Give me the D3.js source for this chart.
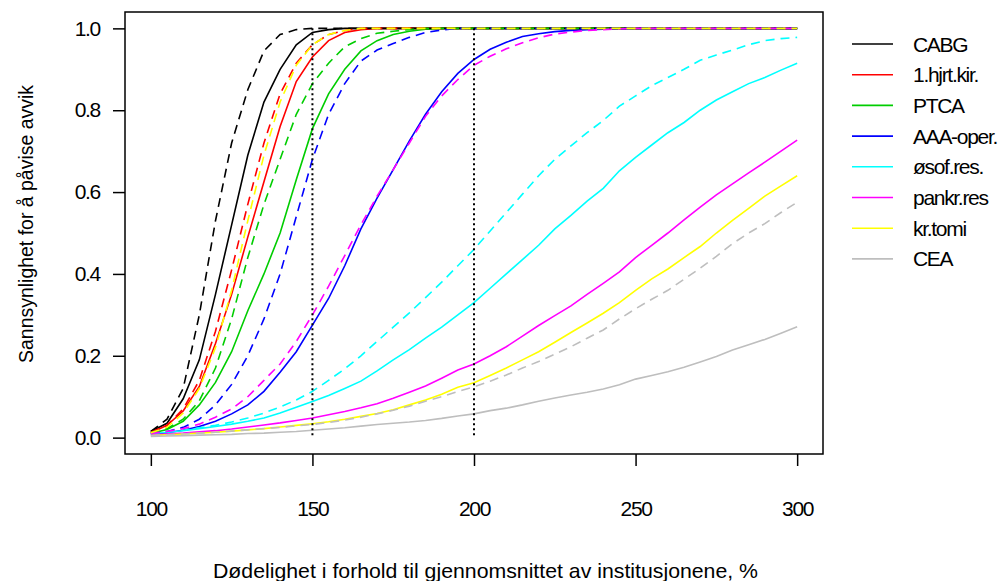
<!DOCTYPE html>
<html>
<head>
<meta charset="utf-8">
<script src="https://cdn.jsdelivr.net/npm/d3@7"></script>
<style>
  body { margin: 0; background: #fff; }
  text { font-family: "Liberation Sans", Arial, sans-serif; }
</style>
</head>
<body>
<div class="chart"></div>
<script>
// x values (% of average mortality)
var xs = [100,105,110,115,120,125,130,135,140,145,150,155,160,165,170,175,180,185,190,195,
          200,205,210,215,220,225,230,235,240,245,250,255,260,265,270,275,280,285,290,295,300];

var categories = ["CABG", "1.hjrt.kir.", "PTCA", "AAA-oper.", "øsof.res.", "pankr.res", "kr.tomi", "CEA"];
var colors = ["#000000", "#ff0000", "#00cd00", "#0000ff", "#00ffff", "#ff00ff", "#ffff00", "#bebebe"];

var xTicks = [100, 150, 200, 250, 300];
var yTicks = [0, 0.2, 0.4, 0.6, 0.8, 1.0];
var refLines = [150, 200];

// solid lines
var cabgSolid = [0.015,0.035,0.095,0.19,0.35,0.52,0.69,0.82,0.90,0.96,0.99,0.997,1,1,1,1,1,1,1,1,1,1,1,1,1,1,1,1,1,1,1,1,1,1,1,1,1,1,1,1,1];
var hjrtSolid = [0.012,0.03,0.065,0.125,0.23,0.35,0.49,0.625,0.76,0.87,0.93,0.97,0.99,0.997,1,1,1,1,1,1,1,1,1,1,1,1,1,1,1,1,1,1,1,1,1,1,1,1,1,1,1];
var ptcaSolid = [0.01,0.02,0.04,0.08,0.135,0.21,0.31,0.40,0.50,0.63,0.755,0.84,0.90,0.945,0.97,0.985,0.993,0.998,1,1,1,1,1,1,1,1,1,1,1,1,1,1,1,1,1,1,1,1,1,1,1];
var aaaSolid = [0.008,0.012,0.018,0.027,0.04,0.058,0.08,0.113,0.16,0.21,0.275,0.34,0.42,0.51,0.585,0.655,0.725,0.79,0.845,0.89,0.924,0.949,0.966,0.98,0.987,0.992,0.995,0.997,0.998,0.999,1,1,1,1,1,1,1,1,1,1,1];
var osofSolid = [0.01,0.013,0.017,0.022,0.027,0.033,0.04,0.048,0.06,0.074,0.088,0.103,0.12,0.138,0.163,0.19,0.215,0.243,0.27,0.30,0.33,0.365,0.40,0.435,0.47,0.51,0.543,0.578,0.609,0.652,0.685,0.715,0.745,0.77,0.80,0.825,0.845,0.865,0.88,0.898,0.915];
var pankrSolid = [0.007,0.009,0.011,0.014,0.017,0.021,0.026,0.031,0.036,0.042,0.048,0.056,0.064,0.073,0.083,0.096,0.111,0.126,0.145,0.165,0.18,0.20,0.222,0.248,0.274,0.298,0.322,0.35,0.377,0.405,0.44,0.47,0.50,0.532,0.563,0.593,0.62,0.647,0.673,0.70,0.727];
var krSolid = [0.005,0.007,0.009,0.011,0.013,0.016,0.019,0.022,0.026,0.03,0.034,0.039,0.045,0.052,0.059,0.068,0.08,0.092,0.106,0.123,0.134,0.152,0.17,0.19,0.21,0.233,0.257,0.28,0.304,0.33,0.36,0.388,0.412,0.44,0.467,0.5,0.531,0.56,0.59,0.615,0.64];
var ceaSolid = [0.003,0.004,0.005,0.006,0.007,0.008,0.01,0.011,0.013,0.015,0.018,0.021,0.024,0.028,0.032,0.035,0.038,0.042,0.047,0.053,0.058,0.066,0.072,0.08,0.089,0.097,0.104,0.111,0.119,0.129,0.143,0.152,0.161,0.172,0.185,0.198,0.214,0.227,0.24,0.255,0.271];

// dashed lines
var cabgDashed = [0.015,0.045,0.12,0.30,0.53,0.72,0.85,0.945,0.985,0.997,1,1,1,1,1,1,1,1,1,1,1,1,1,1,1,1,1,1,1,1,1,1,1,1,1,1,1,1,1,1,1];
var hjrtDashed = [0.013,0.03,0.07,0.14,0.26,0.41,0.57,0.72,0.84,0.915,0.96,0.985,0.995,1,1,1,1,1,1,1,1,1,1,1,1,1,1,1,1,1,1,1,1,1,1,1,1,1,1,1,1];
var ptcaDashed = [0.012,0.022,0.045,0.09,0.17,0.29,0.44,0.57,0.68,0.79,0.865,0.915,0.955,0.975,0.988,0.993,0.997,1,1,1,1,1,1,1,1,1,1,1,1,1,1,1,1,1,1,1,1,1,1,1,1];
var aaaDashed = [0.01,0.015,0.025,0.045,0.08,0.13,0.2,0.29,0.40,0.54,0.68,0.79,0.865,0.92,0.947,0.963,0.978,0.99,0.996,1,1,1,1,1,1,1,1,1,1,1,1,1,1,1,1,1,1,1,1,1,1];
var osofDashed = [0.01,0.014,0.018,0.024,0.03,0.038,0.048,0.06,0.075,0.092,0.113,0.14,0.168,0.2,0.235,0.27,0.305,0.342,0.38,0.42,0.46,0.505,0.55,0.595,0.64,0.68,0.713,0.745,0.775,0.81,0.835,0.86,0.88,0.9,0.922,0.935,0.947,0.96,0.97,0.975,0.978];
var pankrDashed = [0.01,0.015,0.022,0.033,0.05,0.07,0.10,0.14,0.18,0.235,0.30,0.37,0.445,0.52,0.59,0.655,0.72,0.785,0.835,0.875,0.91,0.932,0.95,0.965,0.977,0.986,0.991,0.995,0.997,0.999,1,1,1,1,1,1,1,1,1,1,1];
var krDashed = [0.012,0.025,0.06,0.12,0.22,0.36,0.53,0.69,0.82,0.91,0.96,0.985,0.995,1,1,1,1,1,1,1,1,1,1,1,1,1,1,1,1,1,1,1,1,1,1,1,1,1,1,1,1];
var ceaDashed = [0.005,0.007,0.009,0.011,0.013,0.016,0.019,0.022,0.025,0.029,0.032,0.037,0.043,0.05,0.058,0.067,0.077,0.089,0.1,0.113,0.124,0.138,0.153,0.17,0.186,0.204,0.222,0.243,0.263,0.29,0.315,0.338,0.36,0.387,0.414,0.443,0.474,0.5,0.523,0.55,0.575];

var solidSeries = [cabgSolid, hjrtSolid, ptcaSolid, aaaSolid, osofSolid, pankrSolid, krSolid, ceaSolid];
var dashedSeries = [cabgDashed, hjrtDashed, ptcaDashed, aaaDashed, osofDashed, pankrDashed, krDashed, ceaDashed];

var w = 1004, h = 581;
var mLeft = 125, mRight = 823, mTop = 12, mBottom = 454;

var svg = d3.select(".chart").append("svg")
    .attr("width", w)
    .attr("height", h);

svg.append("rect").attr("width", w).attr("height", h).attr("fill", "#fff");

// R style: 4% padding beyond data range
var x = d3.scaleLinear().domain([92, 308]).range([mLeft, mRight]);
var y = d3.scaleLinear().domain([-0.04, 1.04]).range([mBottom, mTop]);

var line = d3.line()
    .x(function (d, i) { return x(xs[i]); })
    .y(function (d) { return y(d); });

var font = 21;
var spacing = "-1.3px";

// lines: solids first, then dashed
var plot = svg.append("g");
solidSeries.forEach(function (s, i) {
    plot.append("path")
        .attr("d", line(s))
        .attr("fill", "none")
        .attr("stroke", colors[i])
        .attr("stroke-width", 1.6);
});
dashedSeries.forEach(function (s, i) {
    plot.append("path")
        .attr("d", line(s))
        .attr("fill", "none")
        .attr("stroke", colors[i])
        .attr("stroke-width", 1.6)
        .attr("stroke-dasharray", "9,6");
});

// dotted reference lines
refLines.forEach(function (v) {
    svg.append("line")
        .attr("x1", x(v)).attr("x2", x(v))
        .attr("y1", y(1)).attr("y2", y(0))
        .attr("stroke", "#000")
        .attr("stroke-width", 2)
        .attr("stroke-dasharray", "2,3");
});

// box
svg.append("rect")
    .attr("x", mLeft).attr("y", mTop)
    .attr("width", mRight - mLeft).attr("height", mBottom - mTop)
    .attr("fill", "none")
    .attr("stroke", "#000")
    .attr("stroke-width", 1.5);

// axes
var xAxis = svg.append("g")
    .attr("transform", "translate(0," + mBottom + ")")
    .call(d3.axisBottom(x).tickValues(xTicks).tickSize(12).tickPadding(35).tickFormat(d3.format("d")));
var yAxis = svg.append("g")
    .attr("transform", "translate(" + mLeft + ",0)")
    .call(d3.axisLeft(y).tickValues(yTicks).tickSize(12).tickPadding(13).tickFormat(d3.format(".1f")));

[xAxis, yAxis].forEach(function (a) {
    a.select(".domain").remove();
    a.selectAll("line").attr("stroke", "#000").attr("stroke-width", 1.5);
    a.selectAll("text")
        .attr("fill", "#000")
        .attr("font-family", "Liberation Sans, Arial, sans-serif")
        .attr("font-size", font)
        .attr("letter-spacing", spacing);
});

// axis titles
svg.append("text")
    .text("Dødelighet i forhold til gjennomsnittet av institusjonene, %")
    .attr("x", 213).attr("y", 578)
    .attr("textLength", 545)
    .attr("lengthAdjust", "spacingAndGlyphs")
    .attr("font-size", font);

svg.append("text")
    .text("Sannsynlighet for å påvise avvik")
    .attr("transform", "translate(33,363) rotate(-90)")
    .attr("textLength", 278)
    .attr("lengthAdjust", "spacingAndGlyphs")
    .attr("font-size", font);

// legend
var legend = svg.append("g");
categories.forEach(function (c, i) {
    var ly = 44 + i * 30.7;
    legend.append("line")
        .attr("x1", 852).attr("x2", 893)
        .attr("y1", ly).attr("y2", ly)
        .attr("stroke", colors[i])
        .attr("stroke-width", 1.6);
    legend.append("text")
        .text(c)
        .attr("x", 913).attr("y", ly)
        .attr("dy", "0.36em")
        .attr("font-size", font)
        .attr("letter-spacing", spacing);
});
</script>
</body>
</html>
